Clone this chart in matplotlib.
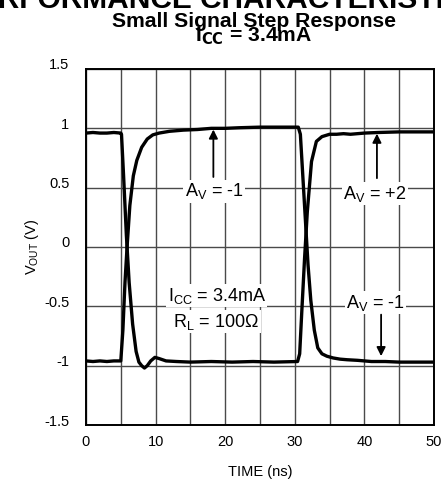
import matplotlib
matplotlib.use("Agg")
import matplotlib.pyplot as plt
from matplotlib.transforms import ScaledTranslation

plt.rcParams['font.family'] = ['Liberation Sans', 'DejaVu Sans']
plt.rcParams['mathtext.default'] = 'regular'

# ---- data ----
# Trace with A_V = -1 (rises at ~5 ns with slow settling, falls at ~31 ns)
t_av_m1 = [0, 1, 2, 3, 4, 5.0, 5.3, 5.6, 5.9, 6.3, 6.8, 7.3, 8.0, 8.8, 9.6, 10.5,
           12, 14, 16, 18, 20, 22, 25, 28, 30.5, 30.8, 31.1, 31.5, 31.9, 32.3,
           32.8, 33.3, 33.9, 34.6, 35.5, 36.5, 37.5, 39, 41, 43, 45, 47, 50]
v_av_m1 = [-0.96, -0.965, -0.96, -0.965, -0.96, -0.96, -0.7, -0.3, 0.0, 0.35, 0.6, 0.73, 0.84, 0.91, 0.945, 0.96,
           0.975, 0.985, 0.99, 1.0, 1.0, 1.005, 1.01, 1.01, 1.01, 0.95, 0.65, 0.25, -0.15, -0.45,
           -0.7, -0.85, -0.9, -0.92, -0.935, -0.945, -0.95, -0.955, -0.965, -0.965, -0.97, -0.97, -0.97]

# Trace with A_V = +2 (falls at ~5 ns with undershoot, rises at ~31 ns)
t_av_p2 = [0, 1, 2, 3, 4, 5.0, 5.1, 5.4, 5.8, 6.2, 6.7, 7.2, 7.6, 8.0, 8.4, 8.8, 9.3, 9.9, 10.5,
           11.5, 13, 15, 18, 21, 24, 27, 30.4, 30.7, 31.0, 31.4, 31.8, 32.4, 33.1, 33.9,
           35, 36, 37, 38, 40, 42, 45, 48, 50]
v_av_p2 = [0.96, 0.965, 0.96, 0.96, 0.965, 0.96, 0.95, 0.6, 0.1, -0.3, -0.65, -0.88, -0.97, -1.0, -1.02, -1.0, -0.96, -0.93, -0.94,
           -0.96, -0.965, -0.97, -0.965, -0.97, -0.965, -0.97, -0.965, -0.9, -0.55, -0.1, 0.3, 0.72, 0.89, 0.93,
           0.95, 0.95, 0.955, 0.95, 0.96, 0.965, 0.97, 0.97, 0.97]

x_ticks = [0, 10, 20, 30, 40, 50]
y_ticks = [-1.5, -1, -0.5, 0, 0.5, 1, 1.5]
y_tick_labels = ['-1.5', '-1', '-0.5', '0', '0.5', '1', '1.5']

# ---- figure ----
fig = plt.figure(figsize=(4.41, 4.82), dpi=100)
ax = fig.add_axes([86/441, 1 - 425/482, (434-86)/441, (425-69)/482])

ax.set_xlim(0, 50)
ax.set_ylim(-1.5, 1.5)
ax.set_xticks(x_ticks)
ax.set_xticks(range(5, 50, 10), minor=True)
ax.set_yticks(y_ticks)
ax.set_yticklabels(y_tick_labels)
ax.grid(True, which='major', color='#4a4a4a', linewidth=1.0)
ax.grid(True, which='minor', axis='x', color='#4a4a4a', linewidth=1.0)
ax.set_axisbelow(True)
ax.tick_params(axis='both', which='both', length=0, labelsize=10.5)
ax.tick_params(axis='y', pad=12)
ax.tick_params(axis='x', pad=7)
for lab in ax.get_yticklabels():
    lab.set_transform(lab.get_transform() + ScaledTranslation(0, 5/100, fig.dpi_scale_trans))
for s in ax.spines.values():
    s.set_linewidth(1.4)
    s.set_color('black')

ax.plot(t_av_m1, v_av_m1, color='black', linewidth=2.4, solid_joinstyle='round', zorder=3)
ax.plot(t_av_p2, v_av_p2, color='black', linewidth=2.4, solid_joinstyle='round', zorder=3)

bbox = dict(facecolor='white', edgecolor='none', pad=1.0)
fs = 13
ax.text(18.4, 0.47, 'A$_{V}$ = -1', ha='center', va='center', fontsize=fs, bbox=bbox, zorder=4)
ax.text(41.5, 0.45, 'A$_{V}$ = +2', ha='center', va='center', fontsize=fs, bbox=bbox, zorder=4)
ax.text(41.6, -0.47, 'A$_{V}$ = -1', ha='center', va='center', fontsize=fs, bbox=bbox, zorder=4)
ax.text(18.8, -0.41, 'I$_{CC}$ = 3.4mA', ha='center', va='center', fontsize=fs, bbox=bbox, zorder=4)
ax.text(18.7, -0.63, 'R$_{L}$ = 100\u03a9', ha='center', va='center', fontsize=fs, bbox=bbox, zorder=4)

aprops = dict(arrowstyle='-|>', color='black', lw=1.3, mutation_scale=13, shrinkA=0, shrinkB=0)
ax.annotate('', xy=(18.3, 0.99), xytext=(18.3, 0.59), arrowprops=aprops, zorder=5)
ax.annotate('', xy=(41.8, 0.955), xytext=(41.8, 0.58), arrowprops=aprops, zorder=5)
ax.annotate('', xy=(42.4, -0.92), xytext=(42.4, -0.57), arrowprops=aprops, zorder=5)

ax.set_xlabel('TIME (ns)', fontsize=10.5, labelpad=12)
ax.set_ylabel('V$_{OUT}$ (V)', fontsize=10.5)
ax.yaxis.set_label_coords(-0.13, 0.5)

fig.text(222/441, 1 - 8/482, 'PERFORMANCE CHARACTERISTICS', ha='center', va='baseline',
         fontsize=21.5, fontweight='bold')
fig.text(254/441, 1 - 27/482, 'Small Signal Step Response', ha='center', va='baseline',
         fontsize=15.2, fontweight='bold')
fig.text(254/441, 1 - 42/482, r'I$_{\mathbf{CC}}$ = 3.4mA', ha='center', va='baseline',
         fontsize=15.2, fontweight='bold')

fig.savefig('out.png', dpi=100)
